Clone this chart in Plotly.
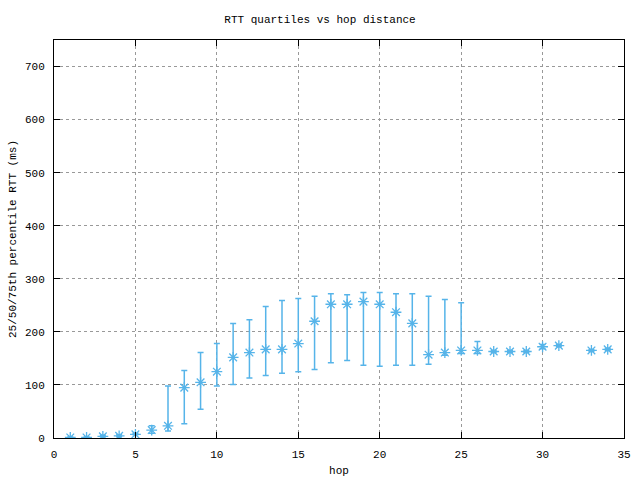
import plotly.graph_objects as go

hops = [1, 2, 3, 4, 5, 6, 7, 8, 9, 10, 11, 12, 13, 14, 15, 16, 17, 18, 19, 20,
        21, 22, 23, 24, 25, 26, 27, 28, 29, 30, 31, 33, 34]
median = [1, 1, 3, 4, 7, 15, 23, 95, 105, 125, 152, 161, 167, 167, 178, 220, 252, 252, 257, 252,
          237, 216, 157, 161, 165, 165, 163, 163, 163, 172, 174, 165, 167]
q25 = [0, 0, 2, 3, 6, 9, 13, 27, 54, 98, 101, 113, 118, 122, 125, 129, 142, 146, 137, 135,
       137, 137, 139, 156, 159, 159, 161, 161, 161, 168, 172, 163, 165]
q75 = [2, 2, 5, 6, 9, 23, 98, 127, 161, 178, 216, 223, 248, 259, 263, 267, 272, 270, 274, 274,
       272, 272, 267, 261, 255, 182, 165, 165, 165, 176, 176, 167, 169]

color = "#56b4e9"
font_family = "Liberation Mono, DejaVu Sans Mono, monospace"

fig = go.Figure()
fig.add_trace(go.Scatter(
    x=hops, y=median, mode="markers",
    marker=dict(symbol="asterisk-open", size=9, color=color, line=dict(color=color, width=1.3)),
    error_y=dict(type="data", symmetric=False,
                 array=[h - m for h, m in zip(q75, median)],
                 arrayminus=[m - l for m, l in zip(median, q25)],
                 color=color, thickness=1.5, width=3),
    showlegend=False,
))

axis_common = dict(
    showline=True, linecolor="black", linewidth=1, mirror="allticks",
    ticks="inside", ticklen=6, tickcolor="black", automargin=False,
    showgrid=True, gridcolor="#999999", griddash="dot", gridwidth=1,
    zeroline=False, tickfont=dict(family=font_family, size=11, color="black"),
)

fig.update_layout(
    width=640, height=480,
    margin=dict(l=54, r=16, t=40, b=42),
    paper_bgcolor="white", plot_bgcolor="white",
    title=dict(text="RTT quartiles vs hop distance", x=0.5, xanchor="center", y=0.96, yanchor="middle",
               font=dict(family=font_family, size=11, color="black")),
    xaxis=dict(range=[0, 35], dtick=5, tick0=0, ticklabelstandoff=6,
               title=dict(text="hop", standoff=6, font=dict(family=font_family, size=11, color="black")),
               **axis_common),
    yaxis=dict(range=[0, 750], dtick=100, tick0=0, ticklabelstandoff=6,
               title=dict(text="25/50/75th percentile RTT (ms)", standoff=6,
                          font=dict(family=font_family, size=11, color="black")),
               **axis_common),
)

fig.write_html("out.html")
